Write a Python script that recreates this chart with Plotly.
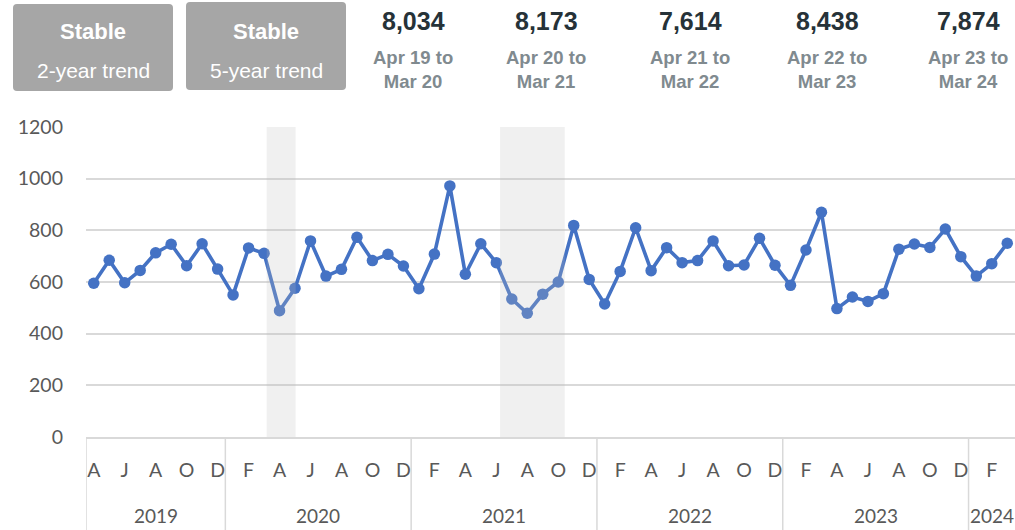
import plotly.graph_objects as go

# ---------------- data ----------------
start_year, start_month = 2019, 4
values = [595, 684, 597, 645, 713, 746, 663, 748, 650, 550, 732, 711,
          489, 576, 759, 623, 649, 773, 683, 707, 662, 574, 708, 972,
          630, 748, 675, 534, 479, 553, 600, 819, 610, 515, 641, 810,
          644, 733, 675, 683, 759, 663, 666, 769, 665, 587, 724, 870,
          497, 542, 525, 555, 727, 747, 734, 805, 698, 623, 671, 750]
month_initials = ["J", "F", "M", "A", "M", "J", "J", "A", "S", "O", "N", "D"]
year_labels = ["2019", "2020", "2021", "2022", "2023", "2024"]

trend_titles = ["Stable", "Stable"]
trend_subtitles = ["2-year trend", "5-year trend"]
period_totals = ["8,034", "8,173", "7,614", "8,438", "7,874"]
period_labels = ["Apr 19 to<br>Mar 20", "Apr 20 to<br>Mar 21", "Apr 21 to<br>Mar 22",
                 "Apr 22 to<br>Mar 23", "Apr 23 to<br>Mar 24"]
# shaded periods (in month-index units along the axis)
shaded_periods = [(11.17, 13.04), (26.24, 30.42)]

# ---------------- derived categories ----------------
cats, years_of, months_of = [], [], []
y, m = start_year, start_month
for _ in values:
    cats.append(f"{y}-{m:02d}")
    years_of.append(y)
    months_of.append(m)
    m += 1
    if m > 12:
        m, y = 1, y + 1

tick_vals = [c for c, mm in zip(cats, months_of) if mm % 2 == 0]
tick_text = [month_initials[mm - 1] for mm in months_of if mm % 2 == 0]

# ---------------- geometry ----------------
W, H = 1015, 530
PLOT_LEFT, PLOT_TOP, PLOT_BOTTOM = 86, 127, 437
L, T, B, R = PLOT_LEFT, PLOT_TOP, H - PLOT_BOTTOM, 0
PW, PH = W - L - R, H - T - B


def px(xp):  # window pixel -> paper x
    return (xp - PLOT_LEFT) / PW


def py(yp):  # window pixel -> paper y
    return (PLOT_BOTTOM - yp) / PH


GRID = "#d9d9d9"
LINE = "#4472C4"
TXT = "#595959"

fig = go.Figure()
fig.add_trace(go.Scatter(
    x=cats, y=values, mode="lines+markers",
    line=dict(color=LINE, width=3.6),
    marker=dict(color=LINE, size=11.5),
    hoverinfo="x+y", showlegend=False,
))

shapes = []
annotations = []

# shaded periods (drawn over the line, translucent)
for x0, x1 in shaded_periods:
    shapes.append(dict(type="rect", xref="x", yref="paper", x0=x0, x1=x1, y0=0, y1=1,
                       fillcolor="rgba(190,190,190,0.23)", line=dict(width=0), layer="above"))

# year group dividers and year labels
idx_by_year = {}
for i, yy in enumerate(years_of):
    idx_by_year.setdefault(yy, []).append(i)
divs = [-0.5] + [idx_by_year[yy][-1] + 0.5 for yy in sorted(idx_by_year)[:-1]]
for d in divs:
    shapes.append(dict(type="line", xref="x", yref="paper", x0=d, x1=d, y0=0, y1=py(H + 2),
                       line=dict(color=GRID, width=1.5), layer="below"))
for lab, yy in zip(year_labels, sorted(idx_by_year)):
    ids = idx_by_year[yy]
    xc = (ids[0] - 0.5 + min(ids[-1] + 0.5, len(values) - 0.5)) / 2
    annotations.append(dict(x=xc, y=py(515), xref="x", yref="paper", text=lab,
                            showarrow=False, xanchor="center", yanchor="middle",
                            font=dict(family="Lato", size=19, color=TXT)))

# header boxes
boxes = [(13, 4, 173, 91), (186, 2, 346, 90)]
rad = 4
for (x0, y0, x1, y1), t1, t2 in zip(boxes, trend_titles, trend_subtitles):
    path = (f"M {px(x0+rad)},{py(y0)} L {px(x1-rad)},{py(y0)} Q {px(x1)},{py(y0)} {px(x1)},{py(y0+rad)} "
            f"L {px(x1)},{py(y1-rad)} Q {px(x1)},{py(y1)} {px(x1-rad)},{py(y1)} "
            f"L {px(x0+rad)},{py(y1)} Q {px(x0)},{py(y1)} {px(x0)},{py(y1-rad)} "
            f"L {px(x0)},{py(y0+rad)} Q {px(x0)},{py(y0)} {px(x0+rad)},{py(y0)} Z")
    shapes.append(dict(type="path", xref="paper", yref="paper", path=path,
                       fillcolor="#a6a6a6", line=dict(width=0)))
    cx = (x0 + x1) / 2
    annotations.append(dict(x=px(cx), y=py(31), xref="paper", yref="paper", text=f"<b>{t1}</b>",
                            showarrow=False, xanchor="center", yanchor="middle",
                            font=dict(family="Liberation Sans", size=22, color="white")))
    annotations.append(dict(x=px(cx), y=py(70), xref="paper", yref="paper", text=t2,
                            showarrow=False, xanchor="center", yanchor="middle",
                            font=dict(family="Liberation Sans", size=21, color="white")))

# period totals
col_x = [413, 546, 690, 827, 968]
for cx, tot, lab in zip(col_x, period_totals, period_labels):
    annotations.append(dict(x=px(cx), y=py(21), xref="paper", yref="paper", text=f"<b>{tot}</b>",
                            showarrow=False, xanchor="center", yanchor="middle",
                            font=dict(family="Liberation Sans", size=25, color="#263238")))
    annotations.append(dict(x=px(cx), y=py(69), xref="paper", yref="paper", text=f"<b>{lab}</b>",
                            showarrow=False, xanchor="center", yanchor="middle", align="center",
                            font=dict(family="Liberation Sans", size=18.5, color="#808a8f")))

fig.update_layout(
    width=W, height=H,
    margin=dict(l=L, r=R, t=T, b=B, pad=0),
    paper_bgcolor="white", plot_bgcolor="white",
    shapes=shapes, annotations=annotations,
    showlegend=False,
)
fig.update_xaxes(
    type="category", categoryorder="array", categoryarray=cats,
    range=[-0.5, len(values) - 0.5],
    tickmode="array", tickvals=tick_vals, ticktext=tick_text,
    ticks="", showgrid=False, zeroline=False,
    showline=True, linecolor=GRID, linewidth=1.5,
    tickfont=dict(family="Lato", size=19.5, color=TXT),
    ticklabelstandoff=15,
)
fig.update_yaxes(
    range=[0, 1200], dtick=200, tick0=0,
    showgrid=True, gridcolor=GRID, gridwidth=1.5,
    zeroline=False, showline=False, ticks="",
    tickfont=dict(family="Lato", size=19.5, color=TXT),
    ticklabelstandoff=22,
)

fig.write_html(
    "out.html",
    config={"displayModeBar": False},
    post_script="document.body.style.margin='0';document.body.style.overflow='hidden';",
)
